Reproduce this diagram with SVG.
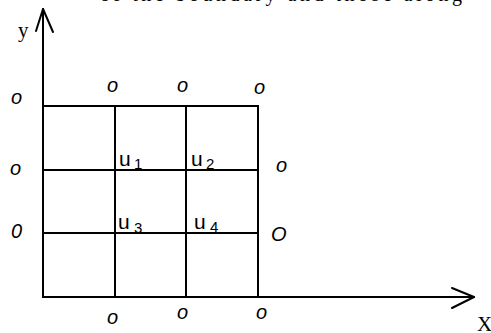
<svg xmlns="http://www.w3.org/2000/svg" width="491" height="333" viewBox="0 0 491 333">
  <style>
    .ln { stroke: #000; stroke-width: 2; fill: none; stroke-linecap: square; }
    .ax { stroke: #000; stroke-width: 2; fill: none; stroke-linecap: round; stroke-linejoin: round; }
    .zero { font-family: "Liberation Sans", sans-serif; font-style: italic; font-size: 20px; fill: #000; }
    .u { font-family: "Liberation Sans", sans-serif; font-size: 21px; fill: #000; }
    .sub { font-family: "Liberation Sans", sans-serif; font-size: 15px; fill: #000; }
    .axl { font-family: "Liberation Serif", serif; font-size: 21px; fill: #000; }
    .top { font-family: "Liberation Serif", serif; font-size: 20px; fill: #000; }
  </style>
  <rect x="0" y="0" width="491" height="333" fill="#fff"/>

  <text class="top" x="100" y="1" textLength="362" lengthAdjust="spacing">of the boundary and those along</text>

  <g id="connectors">
    <path class="ax" d="M43 297 L43 9"/>
    <path class="ax" d="M36 31 L43 9 L53 32"/>
    <path class="ax" d="M43 297 L474 297"/>
    <path class="ax" d="M452 288 L474 297 L452 308"/>
  </g>

  <g id="grid">
    <rect class="ln" x="43" y="106" width="215" height="191"/>
    <line class="ln" x1="115" y1="106" x2="115" y2="297"/>
    <line class="ln" x1="186" y1="106" x2="186" y2="297"/>
    <line class="ln" x1="43" y1="170" x2="258" y2="170"/>
    <line class="ln" x1="43" y1="233" x2="258" y2="233"/>
  </g>

  <g id="u1"><text class="u" x="119" y="166">u</text><text class="sub" x="134" y="169">1</text></g>
  <g id="u2"><text class="u" x="191" y="166">u</text><text class="sub" x="206" y="169">2</text></g>
  <g id="u3"><text class="u" x="118" y="229">u</text><text class="sub" x="134" y="233">3</text></g>
  <g id="u4"><text class="u" x="194" y="229">u</text><text class="sub" x="210" y="232">4</text></g>

  <g id="boundary">
    <text class="zero" x="107" y="92">o</text>
    <text class="zero" x="177" y="92">o</text>
    <text class="zero" x="254" y="94">o</text>
    <text class="zero" x="11" y="104">o</text>
    <text class="zero" x="10" y="175">o</text>
    <text class="zero" x="276" y="172">o</text>
    <text class="zero" x="11" y="238">0</text>
    <text class="zero" x="271" y="241">O</text>
    <text class="zero" x="107" y="324">o</text>
    <text class="zero" x="177" y="319">o</text>
    <text class="zero" x="256" y="319">o</text>
  </g>

  <text class="axl" x="18" y="37">y</text>
  <text class="axl" x="477" y="331">X</text>
</svg>
